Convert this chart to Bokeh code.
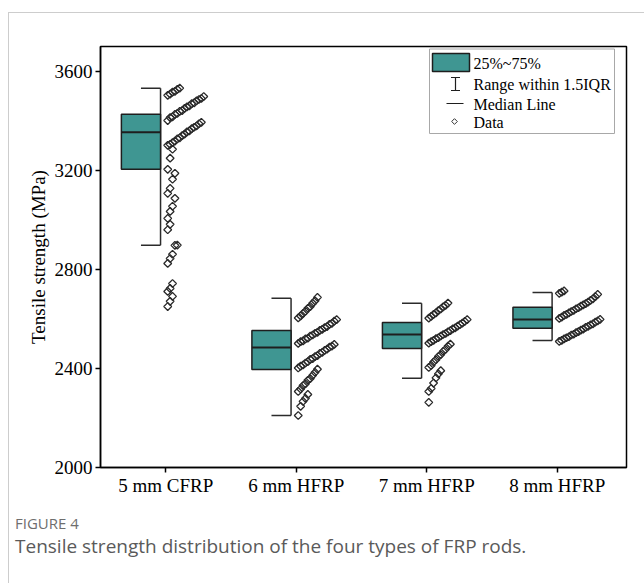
import numpy as np
from bokeh.plotting import figure
from bokeh.models import FixedTicker, Range1d, Div
from bokeh.layouts import column
from bokeh.core.properties import value
from bokeh.embed import file_html
from bokeh.resources import INLINE

# ---------------- data ----------------
categories = ["5 mm CFRP", "6 mm HFRP", "7 mm HFRP", "8 mm HFRP"]
q1 = [3204, 2396, 2481, 2562]
median = [3354, 2485, 2537, 2598]
q3 = [3426, 2553, 2586, 2647]
whisker_low = [2897, 2210, 2360, 2513]
whisker_high = [3531, 2683, 2663, 2707]
y_ticks = [2000, 2400, 2800, 3200, 3600]

cfrp_5mm = [2650, 2671, 2691, 2711, 2723, 2743, 2824, 2844, 2861, 2897, 2898,
            2960, 2982, 3006, 3034, 3055, 3087, 3107, 3127, 3164, 3188,
            3204, 3249, 3285,
            3301, 3305, 3312, 3318, 3327, 3331, 3340, 3346, 3355, 3359,
            3368, 3374, 3379, 3388, 3394, 3401,
            3413, 3416, 3426, 3430, 3438, 3441, 3450, 3456, 3460, 3469,
            3472, 3481, 3486, 3490, 3498,
            3503, 3508, 3516, 3519, 3527, 3532]
hfrp_6mm = [2210, 2247, 2267, 2279, 2295,
            2307, 2317, 2331, 2338, 2352, 2359, 2372, 2384, 2397,
            2402, 2409, 2414, 2422, 2427, 2437, 2440, 2448, 2452, 2461,
            2465, 2473, 2478, 2486, 2490, 2497,
            2501, 2508, 2511, 2519, 2522, 2531, 2535, 2542, 2546, 2554,
            2558, 2565, 2569, 2578, 2582, 2591, 2597,
            2604, 2612, 2622, 2631, 2643, 2650, 2663, 2673, 2687]
hfrp_7mm = [2263,
            2307, 2319, 2341, 2362, 2378, 2391,
            2404, 2412, 2426, 2435, 2448, 2456, 2469, 2477, 2490, 2498,
            2502, 2508, 2513, 2520, 2524, 2531, 2537, 2541, 2548, 2553,
            2560, 2564, 2571, 2577, 2583, 2590, 2597,
            2603, 2610, 2618, 2624, 2634, 2640, 2649, 2655, 2664]
hfrp_8mm = [2509, 2513, 2519, 2524, 2528, 2535, 2538, 2545, 2549, 2555,
            2559, 2566, 2570, 2576, 2580, 2587, 2592, 2598,
            2602, 2607, 2614, 2618, 2624, 2630, 2634, 2641, 2645, 2652,
            2657, 2662, 2668, 2675, 2681, 2690, 2699,
            2703, 2708, 2713]
groups = [cfrp_5mm, hfrp_6mm, hfrp_7mm, hfrp_8mm]

caption_label = "FIGURE 4"
caption_text = "Tensile strength distribution of the four types of FRP rods."

# ---------------- style ----------------
SERIF = "Liberation Serif"
TEAL = "#3f9692"
DARK = "#1e1e1e"
X0, X1 = 0.5, 4.53
Y0, Y1 = 2000, 3700

p = figure(width=634, height=487, x_range=Range1d(X0, X1), y_range=Range1d(Y0, Y1),
           output_backend="svg", toolbar_location=None,
           min_border_left=91, min_border_right=17, min_border_top=33,
           min_border_bottom=33)
p.background_fill_color = "white"
p.border_fill_color = "white"
p.outline_line_color = "black"
p.outline_line_width = 1.5
p.outline_line_alpha = 1.0
p.xgrid.visible = False
p.ygrid.visible = False

for ax in (p.xaxis[0], p.yaxis[0]):
    ax.axis_line_color = "black"
    ax.axis_line_width = 1.5
    ax.major_tick_line_color = "black"
    ax.major_tick_line_width = 1.5
    ax.major_tick_in = 0
    ax.major_tick_out = 5
    ax.minor_tick_in = 0
    ax.minor_tick_out = 0
    ax.major_label_text_font = SERIF
    ax.major_label_text_font_size = "19px"
    ax.major_label_text_color = "black"

p.yaxis.ticker = FixedTicker(ticks=y_ticks)
p.yaxis.major_label_standoff = 3
p.yaxis.axis_label = "Tensile strength (MPa)"
p.yaxis.axis_label_text_font = SERIF
p.yaxis.axis_label_text_font_size = "19px"
p.yaxis.axis_label_text_font_style = "normal"
p.yaxis.axis_label_text_color = "black"
p.yaxis.axis_label_standoff = 3

p.xaxis.ticker = FixedTicker(ticks=[1, 2, 3, 4])
p.xaxis.major_label_overrides = {i + 1: c for i, c in enumerate(categories)}
p.xaxis.major_label_standoff = 2

# ---------------- boxes & whiskers ----------------
centers = np.arange(1, len(categories) + 1, dtype=float)
box_l, box_r = centers - 0.34, centers - 0.04
cap_l = centers - 0.19

p.segment(x0=box_r, y0=whisker_low, x1=box_r, y1=whisker_high,
          line_color="#2b2b2b", line_width=1.5)
p.segment(x0=cap_l, y0=whisker_low, x1=box_r, y1=whisker_low,
          line_color="#2b2b2b", line_width=1.5)
p.segment(x0=cap_l, y0=whisker_high, x1=box_r, y1=whisker_high,
          line_color="#2b2b2b", line_width=1.5)
p.quad(left=box_l, right=box_r, bottom=q1, top=q3, fill_color=TEAL,
       line_color=DARK, line_width=1.5)
p.segment(x0=box_l, y0=median, x1=box_r, y1=median, line_color=DARK, line_width=2)

# ---------------- data points (spread within 100 MPa bins) ----------------
xs, ys = [], []
for gi, vals in enumerate(groups):
    counts = {}
    for v in sorted(vals):
        b = int(v // 100)
        k = counts.get(b, 0)
        counts[b] = k + 1
        xs.append(centers[gi] + 0.015 + 0.0184 * k)
        ys.append(v)
p.scatter(xs, ys, marker="square", angle=np.pi / 4, size=5.5,
          fill_color=None, line_color="#2a2a2a", line_width=1.3)

# ---------------- legend (drawn inside the frame) ----------------
FL, FT, FW, FH = 100, 46, 526, 421  # frame in page pixels


def dx(px):
    return X0 + (px - FL) / FW * (X1 - X0)


def dy(py):
    return Y1 - (py - FT) / FH * (Y1 - Y0)


p.quad(left=[dx(429)], right=[dx(614)], top=[dy(48.5)], bottom=[dy(133)],
       fill_color="white", line_color="#a8a8a8", line_width=1)
p.quad(left=[dx(432)], right=[dx(469)], top=[dy(53)], bottom=[dy(71)],
       fill_color=TEAL, line_color=DARK, line_width=1.5)
p.segment(x0=[dx(455)], y0=[dy(77)], x1=[dx(455)], y1=[dy(90)], line_color=DARK, line_width=1.2)
p.segment(x0=[dx(450.5), dx(450.5)], y0=[dy(77), dy(90)], x1=[dx(459.5), dx(459.5)],
          y1=[dy(77), dy(90)], line_color=DARK, line_width=1.2)
p.segment(x0=[dx(446)], y0=[dy(103)], x1=[dx(463)], y1=[dy(103)], line_color=DARK, line_width=1.2)
p.scatter([dx(454)], [dy(121)], marker="square", angle=np.pi / 4, size=4,
          fill_color=None, line_color="#333333", line_width=1)
legend_labels = ["25%~75%", "Range within 1.5IQR", "Median Line", "Data"]
legend_py = [63, 84, 104, 122]
p.text(x=[dx(473)] * 4, y=[dy(v) for v in legend_py], text=legend_labels,
       text_font=value(SERIF), text_font_size="16px", text_color="black",
       text_baseline="middle", text_align="left")

# ---------------- caption ----------------
cap = Div(width=634, height=80, text=(
    "<div style=\"font-family:'Open Sans',sans-serif;padding-left:1px;margin-top:9px;\">"
    f"<div style='font-size:15px;line-height:18px;color:#6e6e6e;'>{caption_label}</div>"
    f"<div style='font-size:19px;line-height:24px;color:#5a5a5a;margin-top:2px;'>{caption_text}</div>"
    "</div>"))

layout = column(p, cap, spacing=0)
layout.margin = (12, 0, 0, 8)
layout.styles = {"border-left": "1px solid #cdcdcd", "border-top": "1px solid #cdcdcd"}

open("out.html", "w").write(file_html(layout, INLINE))
